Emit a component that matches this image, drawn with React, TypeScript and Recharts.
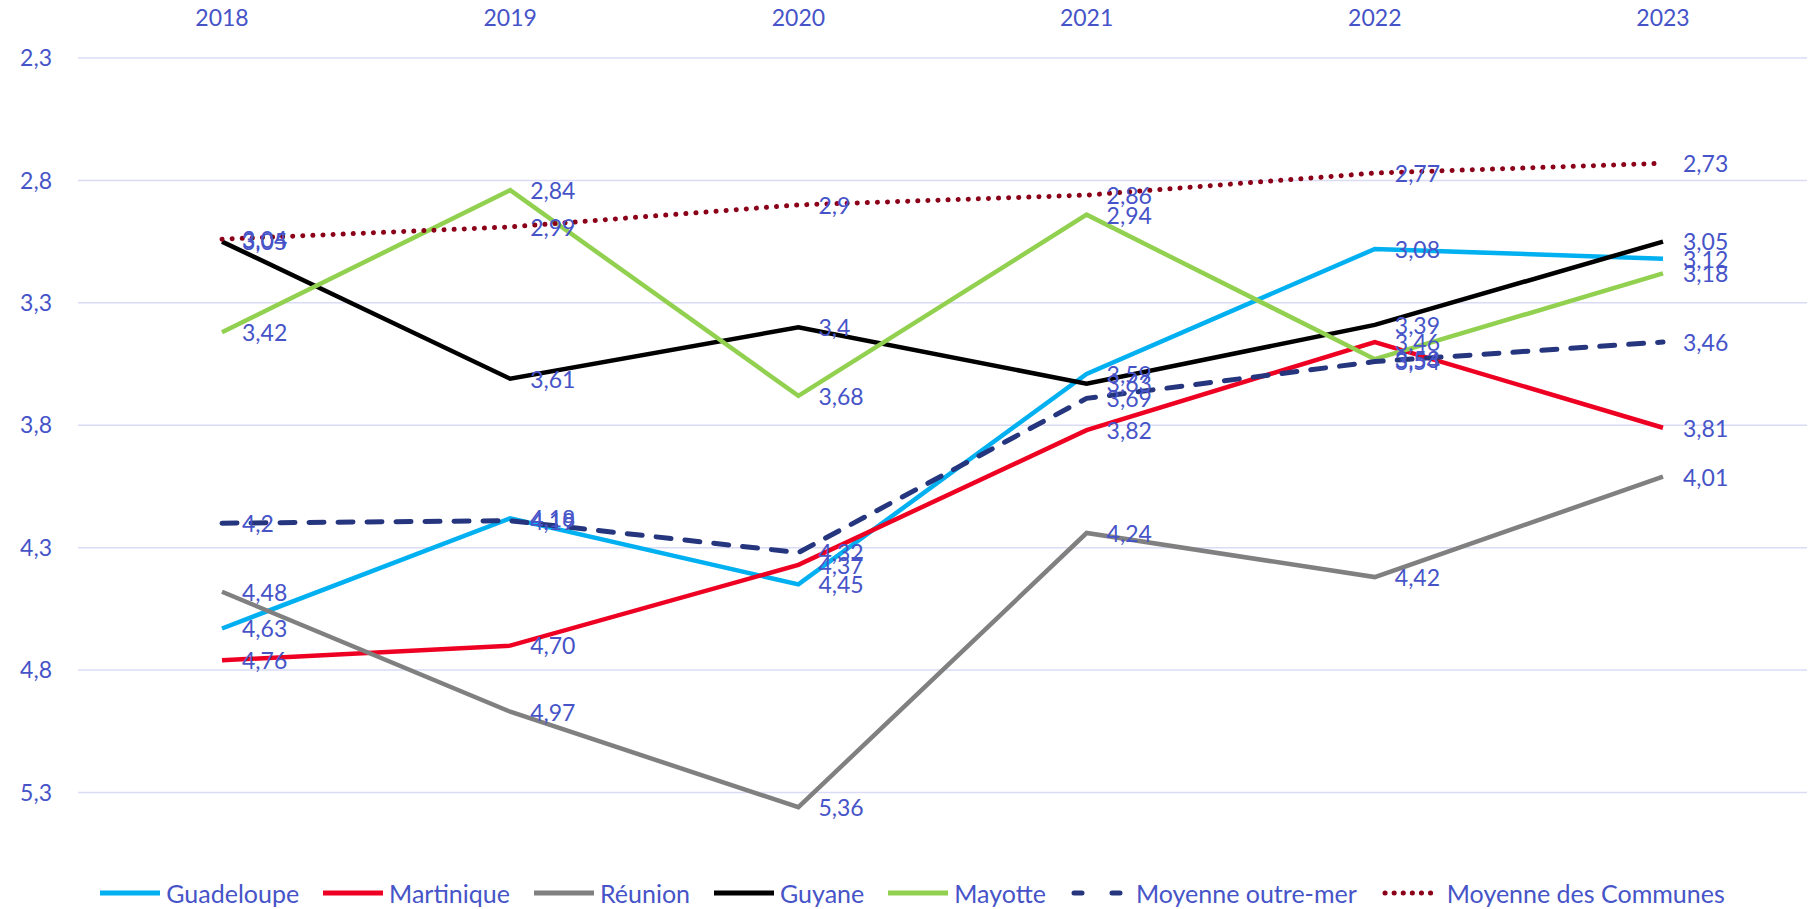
import React from 'react';
import { LineChart, Line, XAxis, YAxis, CartesianGrid, Legend, LabelList } from 'recharts';

const YEARS = ['2018', '2019', '2020', '2021', '2022', '2023'];

const GUADELOUPE = [4.63, 4.18, 4.45, 3.59, 3.08, 3.12];
const MARTINIQUE = [4.76, 4.7, 4.37, 3.82, 3.46, 3.81];
const REUNION = [4.48, 4.97, 5.36, 4.24, 4.42, 4.01];
const GUYANE = [3.05, 3.61, 3.4, 3.63, 3.39, 3.05];
const MAYOTTE = [3.42, 2.84, 3.68, 2.94, 3.53, 3.18];
const MOYENNE_OM = [4.2, 4.19, 4.32, 3.69, 3.54, 3.46];
const MOYENNE_COMMUNES = [3.04, 2.99, 2.9, 2.86, 2.77, 2.73];

const Y_TICKS = [2.3, 2.8, 3.3, 3.8, 4.3, 4.8, 5.3];

const TEXT = '#4654C8';
const FONT = 'Lato, "Open Sans", sans-serif';

const SERIES = [
  { key: 'gua', name: 'Guadeloupe', values: GUADELOUPE, color: '#00B0F0', dash: undefined, cap: 'butt', fixed: false },
  { key: 'mar', name: 'Martinique', values: MARTINIQUE, color: '#EE0022', dash: undefined, cap: 'butt', fixed: true },
  { key: 'reu', name: 'Réunion', values: REUNION, color: '#808080', dash: undefined, cap: 'butt', fixed: false },
  { key: 'guy', name: 'Guyane', values: GUYANE, color: '#000000', dash: undefined, cap: 'butt', fixed: false },
  { key: 'may', name: 'Mayotte', values: MAYOTTE, color: '#92D050', dash: undefined, cap: 'butt', fixed: false },
  { key: 'om', name: 'Moyenne outre-mer', values: MOYENNE_OM, color: '#26367E', dash: '15 14', cap: 'round', fixed: false },
  { key: 'com', name: 'Moyenne des Communes', values: MOYENNE_COMMUNES, color: '#8B0018', dash: '0.1 10', cap: 'round', fixed: false },
];

const data = YEARS.map((year, i) => {
  const row: Record<string, string | number> = { year };
  SERIES.forEach((s) => {
    row[s.key] = s.values[i];
  });
  return row;
});

const comma = (v: number) => String(v).replace('.', ',');

const makeLabel = (fixed: boolean) => (props: any) => {
  const { x, y, value } = props;
  const txt = fixed ? Number(value).toFixed(2).replace('.', ',') : comma(Number(value));
  return (
    <text x={x + 20} y={y + 3} fill={TEXT} fontSize={23} fontFamily={FONT} dominantBaseline="middle">
      {txt}
    </text>
  );
};

const LegendContent = () => (
  <div
    style={{
      display: 'flex',
      justifyContent: 'center',
      alignItems: 'center',
      height: 30,
      fontFamily: FONT,
      fontSize: 25,
      color: TEXT,
      paddingLeft: 42,
    }}
  >
    {SERIES.map((s) => (
      <div key={s.key} style={{ display: 'flex', alignItems: 'center', marginRight: 24 }}>
        <svg width={60} height={12} style={{ marginRight: 6 }}>
          <line
            x1={s.cap === 'round' ? 4 : 0}
            y1={6}
            x2={s.cap === 'round' ? 56 : 60}
            y2={6}
            stroke={s.color}
            strokeWidth={5}
            strokeDasharray={s.dash ? (s.key === 'om' ? '8 30' : '0.1 9') : undefined}
            strokeLinecap={s.cap as any}
          />
        </svg>
        <span>{s.name}</span>
      </div>
    ))}
  </div>
);

export default function App() {
  return (
    <div style={{ position: 'absolute', left: 0, top: 0, background: '#fff' }}>
      <LineChart width={1811} height={909} data={data} margin={{ top: 0, right: 4, bottom: 13, left: 0 }}>
        <CartesianGrid vertical={false} horizontalValues={Y_TICKS} stroke="#D9DCF4" strokeWidth={1.5} />
        <XAxis
          dataKey="year"
          orientation="top"
          height={58}
          padding={{ left: 144, right: 144 }}
          axisLine={false}
          tickLine={false}
          tickSize={0}
          tickMargin={32}
          tick={{ fill: TEXT, fontSize: 23, fontFamily: FONT }}
        />
        <YAxis
          reversed
          type="number"
          domain={[2.3, 5.6]}
          ticks={Y_TICKS}
          width={78}
          axisLine={false}
          tickLine={false}
          tickSize={0}
          tickMargin={26}
          tickFormatter={comma}
          tick={{ fill: TEXT, fontSize: 23, fontFamily: FONT }}
          interval={0}
        />
        <Legend verticalAlign="bottom" content={<LegendContent />} wrapperStyle={{ top: 878, bottom: 'auto' }} />
        {SERIES.map((s) => (
          <Line
            key={s.key}
            dataKey={s.key}
            name={s.name}
            stroke={s.color}
            strokeWidth={s.dash ? 5 : 4.5}
            strokeDasharray={s.dash}
            strokeLinecap={s.cap as any}
            dot={false}
            activeDot={false}
            isAnimationActive={false}
          >
            <LabelList dataKey={s.key} content={makeLabel(s.fixed)} />
          </Line>
        ))}
      </LineChart>
    </div>
  );
}
